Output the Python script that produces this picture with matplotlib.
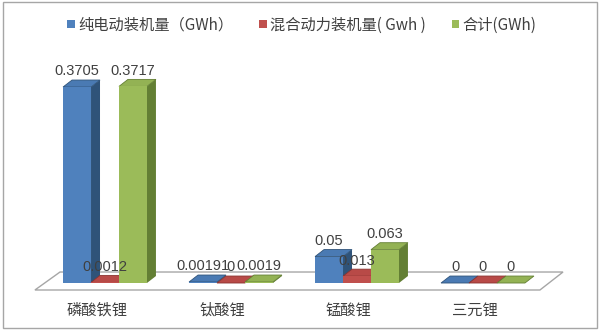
import numpy as np
import matplotlib.pyplot as plt
from matplotlib.patches import Polygon, Rectangle, Patch

plt.rcParams['font.family'] = ['Noto Sans CJK SC', 'DejaVu Sans']

categories = ['磷酸铁锂', '钛酸锂', '锰酸锂', '三元锂']
series_names = ['纯电动装机量（GWh）', '混合动力装机量( Gwh )', '合计(GWh)']
pure_ev = [0.3705, 0.00191, 0.05, 0]
hybrid = [0.0012, 0, 0.013, 0]
total = [0.3717, 0.0019, 0.063, 0]

front_colors = ['#4F81BD', '#C0504D', '#9BBB59']
top_colors = ['#4A7AB3', '#B84A47', '#93B254']
side_colors = ['#2F5379', '#8A3330', '#637F34']

series = [pure_ev, hybrid, total]
x = np.arange(len(categories))
width = 0.222
dx = 0.0714   # depth of the 3d look, in data units
dy = 0.0132

fig = plt.figure(figsize=(6, 3.32), dpi=100)
ax = fig.add_axes([0, 0, 1, 1])
ax.set_xlim(-0.8333, 3.9286)
ax.set_ylim(-0.0926, 0.535)
ax.axis('off')

# floor
fy0, fy1 = -0.0132, 0.0208
floor = Polygon([(x[0] - 0.556, fy0), (x[-1] + 0.452, fy0),
                 (x[-1] + 0.635, fy1), (x[0] - 0.357, fy1)],
                closed=True, facecolor='white', edgecolor='#A6A6A6', lw=1, zorder=1)
ax.add_patch(floor)

z = 2
for i in range(len(categories)):
    for k, vals in enumerate(series):
        x0 = x[i] + (k - 1) * width - width / 2
        v = vals[i]
        side = Polygon([(x0 + width, 0), (x0 + width + dx, dy), (x0 + width + dx, v + dy), (x0 + width, v)],
                       closed=True, facecolor=side_colors[k], edgecolor='none', zorder=z)
        top = Polygon([(x0, v), (x0 + width, v), (x0 + width + dx, v + dy), (x0 + dx, v + dy)],
                      closed=True, facecolor=top_colors[k], edgecolor=side_colors[k], lw=0.6, zorder=z + 1)
        ax.add_patch(side)
        ax.add_patch(top)
        ax.bar(x0, v, width=width, align='edge', color=front_colors[k], zorder=z + 2)
        z += 3

for i in range(len(categories)):
    for k, vals in enumerate(series):
        xc = x[i] + (k - 1) * width
        v = vals[i]
        ax.text(xc, v + dy + 0.003, f'{v:g}', ha='center', va='bottom',
                fontsize=10.5, color='#404040', family=['Liberation Sans'], zorder=200)
    ax.text(x[i] - 0.065, -0.051, categories[i], ha='center', va='center',
            fontsize=11, color='#404040', zorder=200)

handles = [Patch(facecolor=c, edgecolor='none') for c in front_colors]
leg = ax.legend(handles, series_names, loc='center', bbox_to_anchor=(0.503, 1 - 25 / 332),
                ncol=3, frameon=False, fontsize=11, handlelength=0.5, handleheight=0.5,
                handletextpad=0.2, columnspacing=1.7)
for t in leg.get_texts():
    t.set_color('#404040')

fig.patches.append(Rectangle((0.005, 0.012), 0.99, 0.982, transform=fig.transFigure,
                             facecolor='none', edgecolor='#A6A6A6', lw=1))

fig.savefig('out.png', dpi=100)
